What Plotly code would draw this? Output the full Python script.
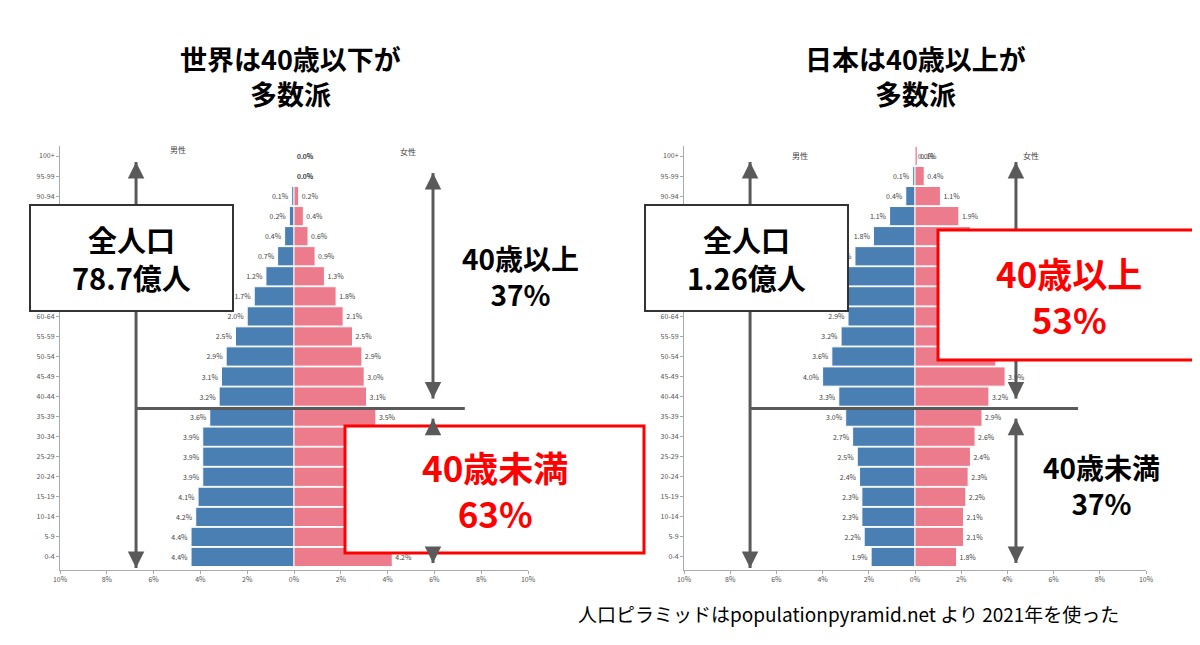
import plotly.graph_objects as go

ages = ["0-4", "5-9", "10-14", "15-19", "20-24", "25-29", "30-34", "35-39", "40-44", "45-49",
        "50-54", "55-59", "60-64", "65-69", "70-74", "75-79", "80-84", "85-89", "90-94", "95-99", "100+"]
world_male = [4.4, 4.4, 4.2, 4.1, 3.9, 3.9, 3.9, 3.6, 3.2, 3.1, 2.9, 2.5, 2.0, 1.7, 1.2, 0.7, 0.4, 0.2, 0.1, 0.0, 0.0]
world_female = [4.2, 4.1, 4.0, 3.9, 3.7, 3.8, 3.8, 3.5, 3.1, 3.0, 2.9, 2.5, 2.1, 1.8, 1.3, 0.9, 0.6, 0.4, 0.2, 0.0, 0.0]
japan_male = [1.9, 2.2, 2.3, 2.3, 2.4, 2.5, 2.7, 3.0, 3.3, 4.0, 3.6, 3.2, 2.9, 2.9, 3.0, 2.6, 1.8, 1.1, 0.4, 0.1, 0.0]
japan_female = [1.8, 2.1, 2.1, 2.2, 2.3, 2.4, 2.6, 2.9, 3.2, 3.9, 3.5, 3.2, 3.0, 3.0, 3.3, 2.9, 2.4, 1.9, 1.1, 0.4, 0.1]
tick_vals = [-10, -8, -6, -4, -2, 0, 2, 4, 6, 8, 10]
tick_text = ["10%", "8%", "6%", "4%", "2%", "0%", "2%", "4%", "6%", "8%", "10%"]

BLUE = "#4a7fb4"
PINK = "#ec7b8c"
GRAY = "#5a5a5a"
W, H = 1200, 645
FONT = "Noto Sans CJK JP"

fig = go.Figure()


def add_pyramid(male, female, xa, ya):
    idx = list(range(len(ages)))
    fig.add_trace(go.Bar(x=[-v for v in male], y=idx, orientation="h", marker=dict(color=BLUE, line=dict(color="white", width=1)),
                         text=[f"{v:.1f}%" for v in male], textposition="outside", textfont=dict(size=7, color="#444"),
                         cliponaxis=False, xaxis=xa, yaxis=ya, showlegend=False))
    fig.add_trace(go.Bar(x=female, y=idx, orientation="h", marker=dict(color=PINK, line=dict(color="white", width=1)),
                         text=[f"{v:.1f}%" for v in female], textposition="outside", textfont=dict(size=7, color="#444"),
                         cliponaxis=False, xaxis=xa, yaxis=ya, showlegend=False))


add_pyramid(world_male, world_female, "x", "y")
add_pyramid(japan_male, japan_female, "x2", "y2")

axis_x = dict(range=[-10, 10], tickvals=tick_vals, ticktext=tick_text, tickfont=dict(size=7, color="#555"),
              showgrid=False, zeroline=False, showline=True, linecolor="#aaa", ticks="outside", ticklen=3,
              tickcolor="#aaa", automargin=False, fixedrange=True)
axis_y = dict(range=[-0.65, 20.5], tickvals=list(range(len(ages))), ticktext=ages, tickfont=dict(size=7, color="#555"),
              showgrid=False, zeroline=False, showline=True, linecolor="#aaa", ticks="outside", ticklen=3,
              tickcolor="#aaa", automargin=False, fixedrange=True)

fig.update_layout(
    width=W, height=H, margin=dict(l=0, r=0, t=0, b=0, autoexpand=False), plot_bgcolor="white", paper_bgcolor="white",
    barmode="overlay", bargap=0.04, font=dict(family=FONT),
    xaxis=dict(axis_x, domain=[52 / W, 520 / W], anchor="y"),
    yaxis=dict(axis_y, domain=[1 - 562 / H, 1 - 138 / H], anchor="x"),
    xaxis2=dict(axis_x, domain=[676 / W, 1138 / W], anchor="y2"),
    yaxis2=dict(axis_y, domain=[1 - 562 / H, 1 - 138 / H], anchor="x2"),
)


def px(x, y):
    return x / W, 1 - y / H


shapes = []
anns = []


def vline(xr, yr, x, y0, y1):
    shapes.append(dict(type="line", xref=xr, yref=yr, x0=x, x1=x, y0=y0, y1=y1, line=dict(color=GRAY, width=3), layer="above"))
    anns.append(dict(xref=xr, yref=yr, x=x, y=y0, ax=0, ay=-16, showarrow=True, arrowhead=2, arrowsize=1.1,
                     arrowwidth=3, arrowcolor=GRAY, text=""))
    anns.append(dict(xref=xr, yref=yr, x=x, y=y1, ax=0, ay=16, showarrow=True, arrowhead=2, arrowsize=1.1,
                     arrowwidth=3, arrowcolor=GRAY, text=""))


# world arrows
vline("x", "y", -6.75, -0.55, 19.7)
vline("x", "y", 5.94, 7.9, 19.15)
vline("x", "y", 5.94, -0.3, 6.9)
shapes.append(dict(type="line", xref="x", yref="y", x0=-6.75, x1=7.3, y0=7.4, y1=7.4, line=dict(color=GRAY, width=3), layer="above"))
# japan arrows
vline("x2", "y2", -7.14, -0.55, 19.7)
vline("x2", "y2", 4.37, 7.9, 19.7)
vline("x2", "y2", 4.37, -0.3, 6.9)
shapes.append(dict(type="line", xref="x2", yref="y2", x0=-7.14, x1=7.06, y0=7.4, y1=7.4, line=dict(color=GRAY, width=3), layer="above"))


def text_at(x, y, text, size, color):
    cx, cy = px(x, y)
    anns.append(dict(xref="paper", yref="paper", x=cx, y=cy, xanchor="center", yanchor="middle", text=text,
                     showarrow=False, font=dict(size=size, color=color, family=FONT)))


def box(x0, y0, x1, y1, color, width, text, size, tcolor):
    a, b = px(x0, y1)
    c, d = px(x1, y0)
    shapes.append(dict(type="rect", xref="paper", yref="paper", x0=a, y0=b, x1=c, y1=d, fillcolor="white",
                       line=dict(color=color, width=width), layer="above"))
    text_at((x0 + x1) / 2, (y0 + y1) / 2, text, size, tcolor)


box(22, 197, 225, 303, "#333", 2, "<b>全人口<br>78.7億人</b>", 29, "black")
box(337, 418, 636, 545, "#ff0000", 3, "<b>40歳未満<br>63%</b>", 35, "#ff0000")
box(637, 197, 840, 303, "#333", 2, "<b>全人口<br>1.26億人</b>", 29, "black")
box(930, 222, 1192, 352, "#ff0000", 3, "<b>40歳以上<br>53%</b>", 35, "#ff0000")

text_at(512, 268, "<b>40歳以上<br>37%</b>", 28, "black")
text_at(1093, 477, "<b>40歳未満<br>37%</b>", 28, "black")
text_at(282, 68, "<b>世界は40歳以下が<br>多数派</b>", 27, "black")
text_at(907, 68, "<b>日本は40歳以上が<br>多数派</b>", 27, "black")
text_at(840, 605, "人口ピラミッドはpopulationpyramid.net より 2021年を使った", 19, "black")
text_at(170, 141, "男性", 8, "#444")
text_at(400, 143, "女性", 8, "#444")
text_at(792, 147, "男性", 8, "#444")
text_at(1023, 147, "女性", 8, "#444")

fig.update_layout(shapes=shapes, annotations=anns)
fig.write_html("out.html")
